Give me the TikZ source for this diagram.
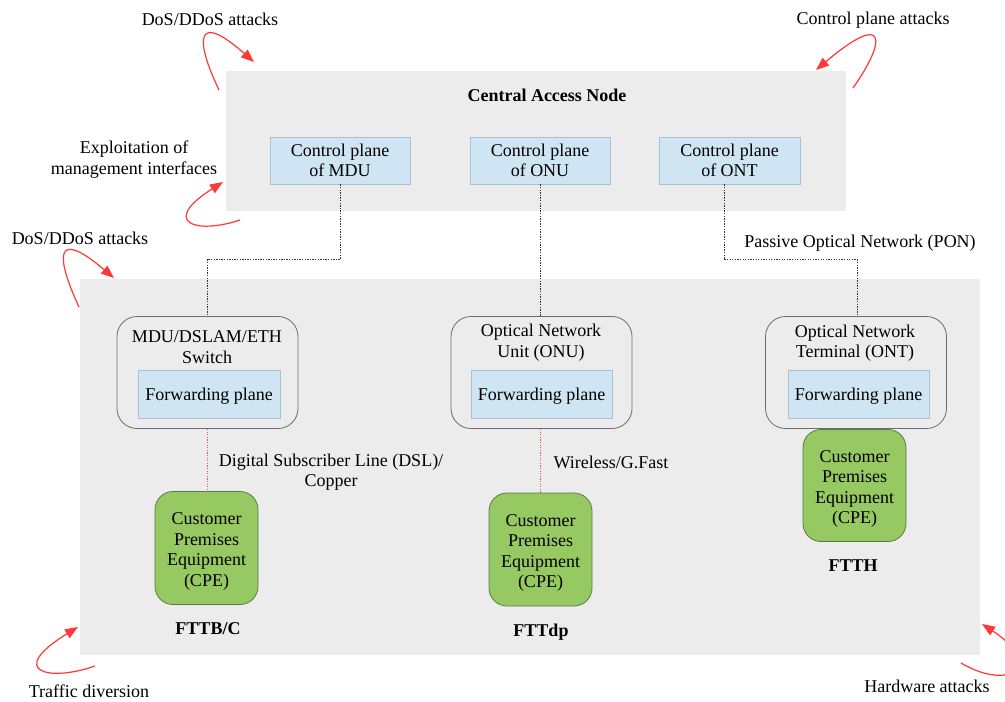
\documentclass[tikz,border=0pt]{standalone}
\usepackage{fontspec}
\setmainfont{Liberation Serif}
\usetikzlibrary{arrows.meta}
\definecolor{bggray}{HTML}{ECECEC}
\definecolor{cpblue}{HTML}{CFE5F3}
\definecolor{cpblueb}{HTML}{A9C1D3}
\definecolor{cpegreen}{HTML}{97C963}
\definecolor{cpeborder}{HTML}{5E7A45}
\definecolor{attred}{HTML}{FF3838}
\definecolor{linkred}{HTML}{E05A5A}
\tikzset{
  txt/.style={font=\fontsize{18}{20.5}\selectfont, align=center, inner sep=0pt},
  bold/.style={txt, font=\fontsize{18}{20.5}\selectfont\bfseries},
  area/.style={draw=none, fill=bggray, inner sep=0pt},
  ctrl/.style={rectangle, draw=cpblueb, fill=cpblue, line width=0.8pt, inner sep=0pt, txt},
  fwd/.style={ctrl, text height=16pt, text depth=3.6pt},
  device/.style={rectangle, rounded corners=20pt, draw=gray!85!black, fill=bggray, line width=0.8pt, inner sep=0pt},
  cpe/.style={rectangle, rounded corners=18pt, draw=cpeborder, fill=cpegreen, line width=0.8pt, inner sep=0pt, txt, minimum width=103pt},
  blink/.style={line width=1pt, dash pattern=on 1.3pt off 1.3pt, black!80},
  rlink/.style={line width=1pt, dash pattern=on 1.3pt off 1.3pt, linkred},
  attack/.style={draw=attred, line width=1.2pt, -{Triangle[length=13pt,width=10pt]}},
}
\newcommand{\cpetext}{\rule{0pt}{18.5pt}Customer\\Premises\\Equipment\\(CPE)}
\begin{document}
\begin{tikzpicture}[x=1pt,y=-1pt]
\useasboundingbox (0,0) rectangle (1005,702);
\fill[white] (0,0) rectangle (1005,702);
% areas
\node[area, minimum width=620pt, minimum height=140pt] (can) at (536,141) {};
\node[area, minimum width=900pt, minimum height=376pt] (acc) at (530,467) {};
\node[bold] (cantitle) at (547,95) {Central Access Node};
% control planes
\node[ctrl, minimum width=140pt, minimum height=47pt] (cpm) at (340,160.5) {Control plane\\of MDU};
\node[ctrl, minimum width=140pt, minimum height=47pt] (cpu) at (540,160.5) {Control plane\\of ONU};
\node[ctrl, minimum width=141pt, minimum height=47pt] (cpt) at (729.5,160.5) {Control plane\\of ONT};
% devices
\node[device, minimum width=181pt, minimum height=112pt] (mdu) at (207.5,372.5) {};
\node[device, minimum width=181pt, minimum height=112pt] (onu) at (541.5,372.5) {};
\node[device, minimum width=181pt, minimum height=112pt] (ont) at (856,372.5) {};
\node[txt] (mdut) at (207,347) {MDU/DSLAM/ETH\\Switch};
\node[txt] (onut) at (541,342.5) {Optical Network\\Unit (ONU)};
\node[txt] (ontt) at (855,343) {Optical Network\\Terminal (ONT)};
\node[fwd, minimum width=142pt, minimum height=48pt] (fpm) at (209,394) {Forwarding plane};
\node[fwd, minimum width=141pt, minimum height=48pt] (fpu) at (541.5,394) {Forwarding plane};
\node[fwd, minimum width=141pt, minimum height=48pt] (fpt) at (858.5,394) {Forwarding plane};
% CPEs
\node[cpe, minimum height=113pt] (cpe1) at (206.5,548) {\cpetext};
\node[cpe, minimum height=113pt] (cpe2) at (540.5,549.5) {\cpetext};
\node[cpe, minimum height=112pt] (cpe3) at (854.5,485.5) {\cpetext};
\node[bold] (l1) at (208,629) {FTTB/C};
\node[bold] (l2) at (541,632) {FTTdp};
\node[bold] (l3) at (853,566) {FTTH};
% connectors
\coordinate (jm) at (340,259.5);
\coordinate (jt1) at (724,259.5);
\coordinate (jt2) at (857,259.5);
\draw[blink] (cpm.south) -- (jm) -| ([xshift=-0.5pt]mdu.north);
\draw[blink] ([xshift=0pt]cpu.south) -- ([xshift=-1.5pt]onu.north);
\draw[blink] ([xshift=-5.5pt]cpt.south) -- (jt1) -- (jt2) -- ([xshift=1pt]ont.north);
\draw[rlink] ([xshift=-0.5pt]mdu.south) -- ([xshift=0.5pt]cpe1.north);
\draw[rlink] ([xshift=-1.5pt]onu.south) -- ([xshift=-0.5pt]cpe2.north);
\node[txt] (dsl) at (331,472) {Digital Subscriber Line (DSL)/\\Copper};
\node[txt] (wgf) at (611,462) {Wireless/G.Fast};
\node[txt] (pon) at (860,243) {Passive Optical Network (PON)};
% attack labels
\node[txt] (a1) at (210,19) {DoS/DDoS attacks};
\node[txt] (a2) at (873,20) {Control plane attacks};
\node[txt] (a3) at (134,159.5) {Exploitation of\\management interfaces};
\node[txt] (a4) at (80,238) {DoS/DDoS attacks};
\node[txt] (a5) at (89,691) {Traffic diversion};
\node[txt] (a6) at (927,686) {Hardware attacks};
% attack arrows
\coordinate (s1) at (219,90);  \coordinate (e1) at (254,62);
\coordinate (s2) at (853,88);  \coordinate (e2) at (816,70);
\coordinate (s3) at (240,220); \coordinate (e3) at (223,182);
\coordinate (s4) at (79,307);  \coordinate (e4) at (114,278);
\coordinate (s5) at (95,666);  \coordinate (e5) at (78,627);
\coordinate (s6) at (961,663); \coordinate (e6) at (982,624);
\draw[attack] (s1) .. controls (195,40) and (195,10) .. (e1);
\draw[attack] (s2) .. controls (887,40) and (887,10) .. (e2);
\draw[attack] (s3) .. controls (195,235) and (160,222) .. (e3);
\draw[attack] (s4) .. controls (55,255) and (55,228) .. (e4);
\draw[attack] (s5) .. controls (50,682) and (5,672) .. (e5);
\draw[attack] (s6) .. controls (1010,692) and (1045,665) .. (e6);
\end{tikzpicture}
\end{document}
